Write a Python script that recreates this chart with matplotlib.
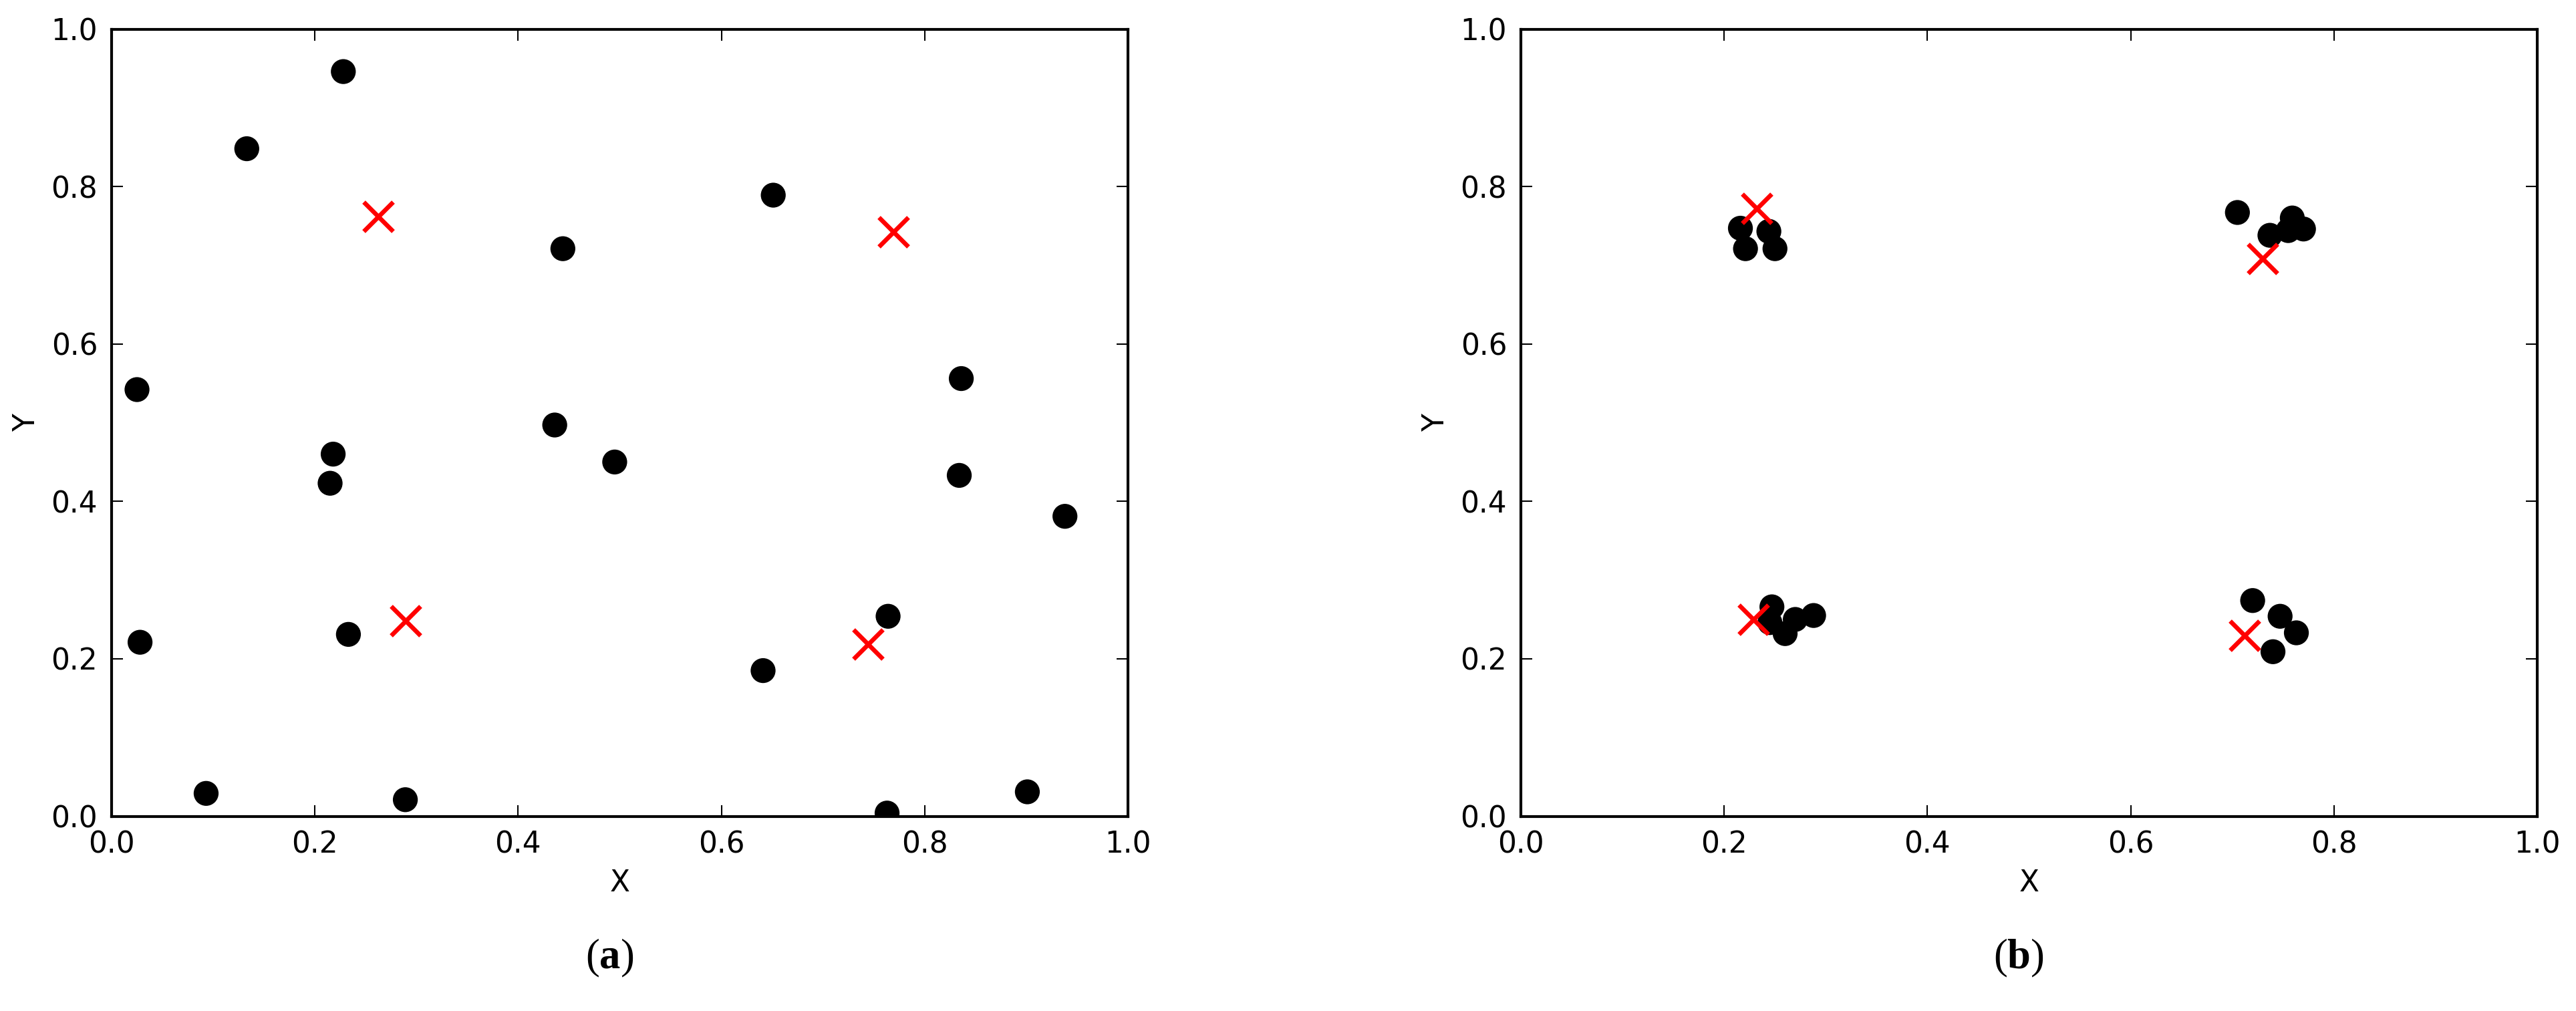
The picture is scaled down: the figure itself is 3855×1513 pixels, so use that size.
import matplotlib.pyplot as plt

# panel (a): random initial points and initial centroids
pts_a_x = [0.228, 0.133, 0.444, 0.025, 0.436, 0.651, 0.836, 0.218, 0.215, 0.495,
           0.233, 0.028, 0.093, 0.289, 0.834, 0.938, 0.764, 0.641, 0.901, 0.763]
pts_a_y = [0.946, 0.848, 0.721, 0.542, 0.497, 0.789, 0.556, 0.460, 0.423, 0.450,
           0.231, 0.221, 0.029, 0.021, 0.433, 0.381, 0.254, 0.185, 0.031, 0.004]
cen_a_x = [0.262, 0.769, 0.289, 0.744]
cen_a_y = [0.762, 0.742, 0.248, 0.219]

# panel (b): points after convergence and final centroids
pts_b_x = [0.216, 0.221, 0.244, 0.250,
           0.705, 0.737, 0.759, 0.770, 0.755,
           0.247, 0.245, 0.260, 0.270, 0.288,
           0.720, 0.747, 0.763, 0.740]
pts_b_y = [0.747, 0.721, 0.743, 0.721,
           0.767, 0.738, 0.760, 0.746, 0.744,
           0.266, 0.246, 0.232, 0.250, 0.255,
           0.274, 0.254, 0.233, 0.209]
cen_b_x = [0.232, 0.730, 0.229, 0.712]
cen_b_y = [0.772, 0.708, 0.250, 0.230]

ticks = [0.0, 0.2, 0.4, 0.6, 0.8, 1.0]
panel_labels = ['a', 'b']

plt.rcParams['font.family'] = 'DejaVu Sans'
plt.rcParams['mathtext.fontset'] = 'custom'
plt.rcParams['mathtext.rm'] = 'Liberation Serif'
plt.rcParams['mathtext.bf'] = 'Liberation Serif:bold'

W, H = 3855, 1513
fig = plt.figure(figsize=(W / 300, H / 300), dpi=300)

ax_w = 1521 / W
ax_h = 1178 / H
bottom = (H - 1221.5) / H
lefts = [167 / W, 2276 / W]

data = [(pts_a_x, pts_a_y, cen_a_x, cen_a_y),
        (pts_b_x, pts_b_y, cen_b_x, cen_b_y)]

for i, (px, py, cx, cy) in enumerate(data):
    ax = fig.add_axes([lefts[i], bottom, ax_w, ax_h])
    ax.scatter(px, py, s=80, c='black', edgecolors='none', zorder=2)
    ax.plot(cx, cy, 'x', color='red', ms=10.5, mew=1.6, ls='none', zorder=3)
    ax.set_xlim(0, 1)
    ax.set_ylim(0, 1)
    ax.set_xticks(ticks)
    ax.set_yticks(ticks)
    ax.tick_params(direction='in', top=True, right=True, length=4, width=0.5,
                   labelsize=10.5, pad=5)
    for sp in ax.spines.values():
        sp.set_linewidth(1.0)
    ax.set_xlabel('X', fontsize=10.5, labelpad=3.6)
    ax.set_ylabel('Y', fontsize=10.5, labelpad=3.7)
    ax.text(0.49, -0.18, r'($\mathbf{' + panel_labels[i] + r'}$)', transform=ax.transAxes,
            ha='center', va='center', fontsize=15, family='Liberation Serif')

fig.savefig('out.png', dpi=300, facecolor='white')
